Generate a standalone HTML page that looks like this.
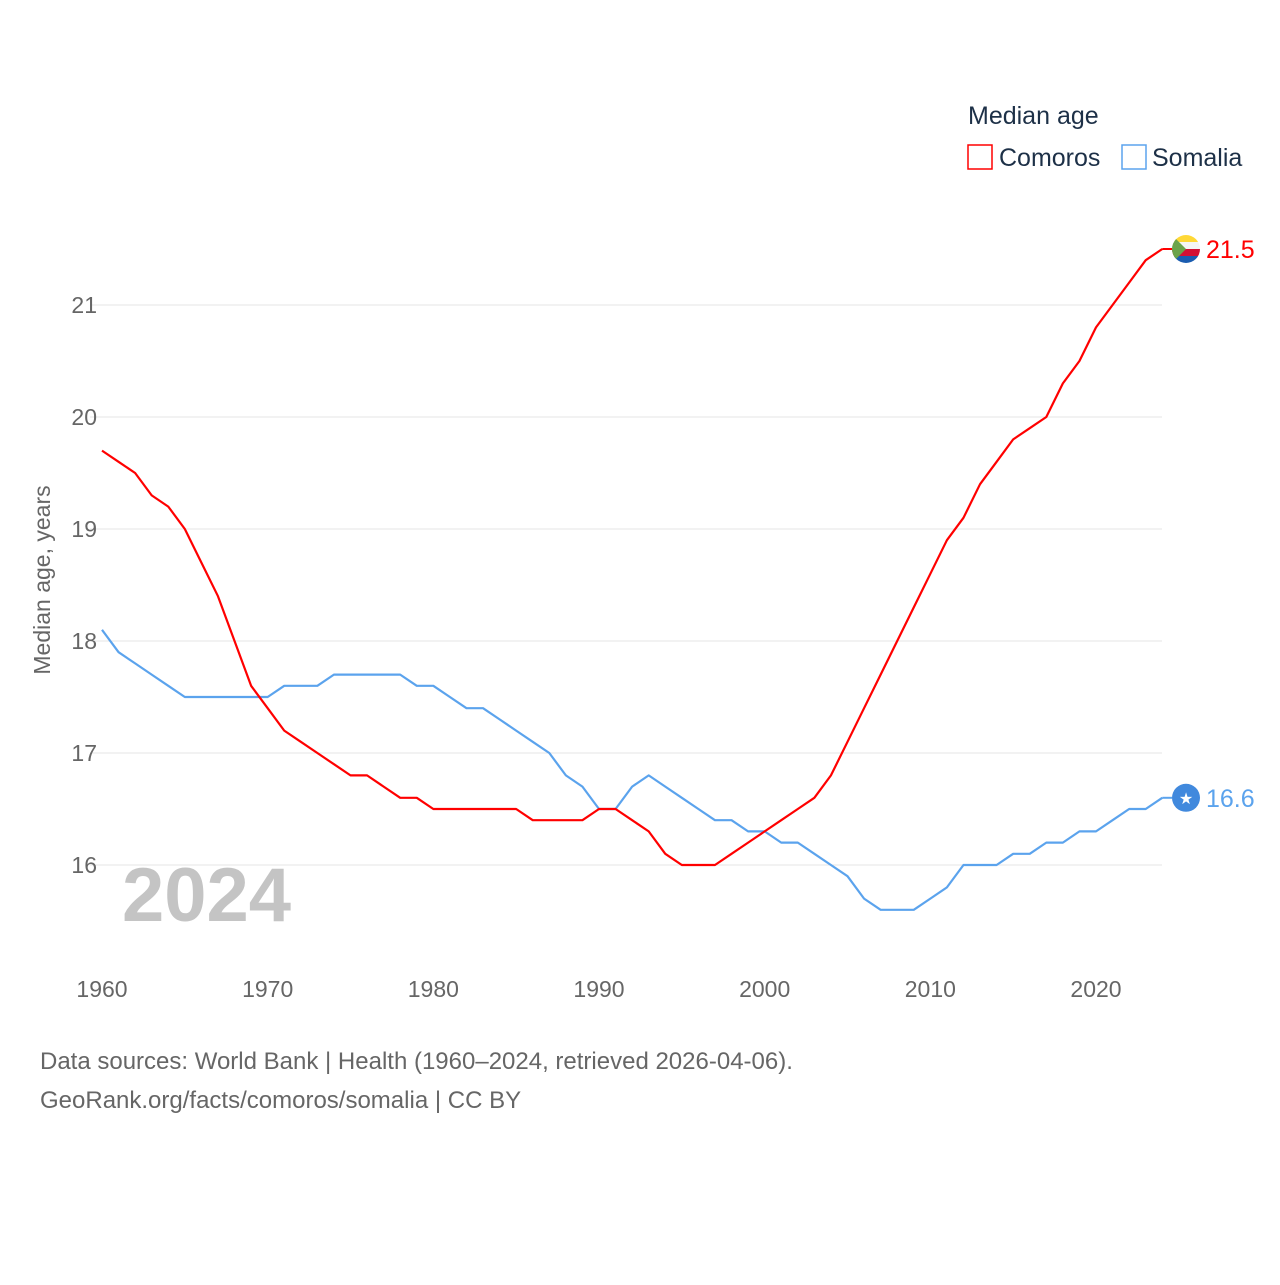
<!DOCTYPE html>
<html><head><meta charset="utf-8"><style>
body{margin:0;background:#fff;font-family:"Liberation Sans",sans-serif}
</style></head><body>
<svg id="chart" width="1280" height="1280" viewBox="0 0 1280 1280" xmlns="http://www.w3.org/2000/svg" font-family="Liberation Sans, sans-serif">
<rect width="1280" height="1280" fill="#fff"/>
<g id="grid"></g>
<g id="yticks"></g>
<g id="xticks"></g>
<text x="122" y="921" font-size="76" font-weight="bold" fill="#c4c4c4">2024</text>
<text transform="translate(50,580) rotate(-90)" text-anchor="middle" font-size="23" fill="#666">Median age, years</text>
<g id="lines"></g>
<g>
<text x="968" y="124" font-size="25" fill="#1d3047">Median age</text>
<g><rect x="968" y="145" width="24" height="24" fill="none" stroke="#ff0000" stroke-width="1.5"/><text x="999" y="166" font-size="25" fill="#1d3047">Comoros</text></g>
<g><rect x="1122" y="145" width="24" height="24" fill="none" stroke="#5ba3ed" stroke-width="1.5"/><text x="1152" y="166" font-size="25" fill="#1d3047">Somalia</text></g>
</g>
<g id="ends"></g>
<text x="40" y="1069" font-size="24" fill="#666">Data sources: World Bank | Health (1960–2024, retrieved 2026-04-06).</text>
<text x="40" y="1108" font-size="24" fill="#666">GeoRank.org/facts/comoros/somalia | CC BY</text>
</svg>
<script>
const years=[];for(let yy=1960;yy<=2024;yy++)years.push(yy);
const comoros=[19.7,19.6,19.5,19.3,19.2,19.0,18.7,18.4,18.0,17.6,17.4,17.2,17.1,17.0,16.9,16.8,16.8,16.7,16.6,16.6,16.5,16.5,16.5,16.5,16.5,16.5,16.4,16.4,16.4,16.4,16.5,16.5,16.4,16.3,16.1,16.0,16.0,16.0,16.1,16.2,16.3,16.4,16.5,16.6,16.8,17.1,17.4,17.7,18.0,18.3,18.6,18.9,19.1,19.4,19.6,19.8,19.9,20.0,20.3,20.5,20.8,21.0,21.2,21.4,21.5];
const somalia=[18.1,17.9,17.8,17.7,17.6,17.5,17.5,17.5,17.5,17.5,17.5,17.6,17.6,17.6,17.7,17.7,17.7,17.7,17.7,17.6,17.6,17.5,17.4,17.4,17.3,17.2,17.1,17.0,16.8,16.7,16.5,16.5,16.7,16.8,16.7,16.6,16.5,16.4,16.4,16.3,16.3,16.2,16.2,16.1,16.0,15.9,15.7,15.6,15.6,15.6,15.7,15.8,16.0,16.0,16.0,16.1,16.1,16.2,16.2,16.3,16.3,16.4,16.5,16.5,16.6];
const yTicks=[16,17,18,19,20,21];
const xTicks=[1960,1970,1980,1990,2000,2010,2020];
const NS='http://www.w3.org/2000/svg';
const x=v=>102+(v-1960)*(1096-102)/60;
const y=v=>865-(v-16)*112;
function mk(tag,attrs,parent){const e=document.createElementNS(NS,tag);for(const k in attrs)e.setAttribute(k,attrs[k]);parent.appendChild(e);return e;}
const grid=document.getElementById('grid'),yt=document.getElementById('yticks'),xt=document.getElementById('xticks');
yTicks.forEach(t=>{
 const l=mk('line',{x1:90,x2:1162,y1:y(t),y2:y(t),stroke:'#e6e6e6','stroke-width':1},grid);
 
 
 const tx=mk('text',{x:97,y:y(t)+8,'text-anchor':'end','font-size':23,fill:'#666'},yt);
 
 
 tx.textContent=t;
});
xTicks.forEach(t=>{
 const tx=mk('text',{x:x(t),y:997,'text-anchor':'middle','font-size':23,fill:'#666'},xt);
 
 
 tx.textContent=t;
});
const lines=document.getElementById('lines');
const p1=mk('polyline',{points:years.map((yr,i)=>x(yr)+','+y(somalia[i])).join(' '),fill:'none',stroke:'#5ba3ed','stroke-width':2.2,'stroke-linejoin':'round'},lines);


const p2=mk('polyline',{points:years.map((yr,i)=>x(yr)+','+y(comoros[i])).join(' '),fill:'none',stroke:'#ff0000','stroke-width':2.2,'stroke-linejoin':'round'},lines);


const ends=document.getElementById('ends');
const last=years.length-1;
const cy=y(comoros[last]),cx=1186;
const fg=mk('g',{},ends);


mk('line',{x1:x(2024),x2:cx-14,y1:cy,y2:cy,stroke:'#ff0000','stroke-width':2},fg);
const cp=mk('clipPath',{id:'cc'},fg);mk('circle',{cx:cx,cy:cy,r:14},cp);
const fl=mk('g',{'clip-path':'url(#cc)'},fg);
mk('rect',{x:cx-14,y:cy-14,width:28,height:7,fill:'#ffd836'},fl);
mk('rect',{x:cx-14,y:cy-7,width:28,height:7,fill:'#f5f5f5'},fl);
mk('rect',{x:cx-14,y:cy,width:28,height:7,fill:'#d21034'},fl);
mk('rect',{x:cx-14,y:cy+7,width:28,height:7,fill:'#1a5cb0'},fl);
mk('polygon',{points:(cx-14)+','+(cy-14)+' '+(cx)+','+cy+' '+(cx-14)+','+(cy+14),fill:'#6ba34a'},fl);
const t1=mk('text',{x:1206,y:cy+9,'font-size':25,fill:'#ff0000'},ends);


t1.textContent=comoros[last].toFixed(1);
const sy=y(somalia[last]);
const sg=mk('g',{},ends);


mk('line',{x1:x(2024),x2:cx-14,y1:sy,y2:sy,stroke:'#5ba3ed','stroke-width':2},sg);
mk('circle',{cx:cx,cy:sy,r:14,fill:'#4189dd'},sg);
const st=mk('text',{x:cx,y:sy+6,'text-anchor':'middle','font-size':16,fill:'#fff','font-family':'DejaVu Sans, sans-serif'},sg);st.textContent='★';
const t2=mk('text',{x:1206,y:sy+9,'font-size':25,fill:'#5ba3ed'},ends);


t2.textContent=somalia[last].toFixed(1);
</script>
</body></html>
